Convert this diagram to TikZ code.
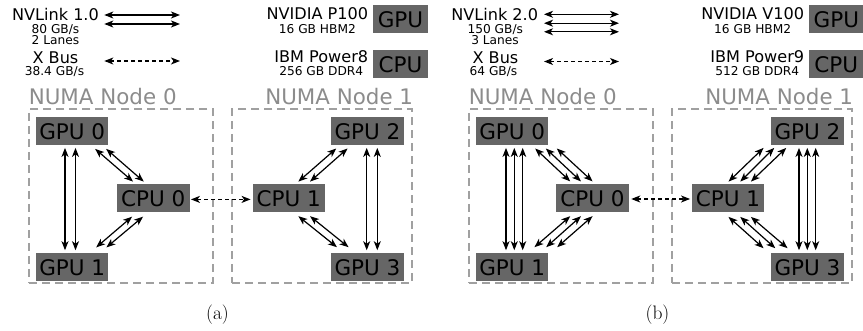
\documentclass[tikz,border=0pt]{standalone}
\usepackage{fontspec}
\newfontfamily\dejavu{DejaVu Sans}
\usetikzlibrary{arrows.meta,calc}

\definecolor{boxgray}{RGB}{102,102,102}
\definecolor{numagray}{RGB}{160,160,160}
\definecolor{numatext}{RGB}{140,140,140}

\tikzset{
  unit/.style={fill=boxgray, inner sep=0pt, outer sep=0pt, minimum height=28pt,
    text height=16.3pt, text depth=0pt, font=\dejavu\fontsize{21.5}{24}\selectfont},
  dev/.style={unit, minimum width=72.5pt},
  keybox/.style={unit, minimum width=54.3pt},
  numabox/.style={draw=numagray, line width=2.3pt, dash pattern=on 8pt off 5pt,
    inner sep=0pt, outer sep=0pt, minimum height=174pt},
  numalabel/.style={text=numatext, inner sep=0pt, font=\dejavu\fontsize{21.4}{24}\selectfont},
  bigtext/.style={inner sep=0pt, font=\dejavu\fontsize{16.1}{18}\selectfont},
  smalltext/.style={inner sep=0pt, font=\dejavu\fontsize{12.2}{14}\selectfont},
  captext/.style={inner sep=0pt, font=\fontsize{19.5}{23}\selectfont},
  nvlink/.style={line width=1.2pt,
    {Stealth[length=9pt,width=7pt,inset=2.5pt]}-{Stealth[length=9pt,width=7pt,inset=2.5pt]}},
  xbus/.style={nvlink, dash pattern=on 4pt off 3pt},
  vgap/.style={shorten <=2.7pt, shorten >=3pt},
}

\begin{document}
\begin{tikzpicture}[x=1pt,y=-1pt]
\useasboundingbox (0,0) rectangle (863,331);

% ---------------- (a) POWER8 / P100 ----------------
% legend
\node[bigtext, anchor=base] (nvla) at (55.5,20.7) {NVLink 1.0};
\node[smalltext, anchor=base] (nvlbwa) at (55.5,33.3) {80 GB/s};
\node[smalltext, anchor=base] (nvllna) at (55.5,44.3) {2 Lanes};
\node[bigtext, anchor=base] (xba) at (55.5,64) {X Bus};
\node[smalltext, anchor=base] (xbbwa) at (54.5,76) {38.4 GB/s};
\coordinate (nvLa1) at (104.3,15);  \coordinate (nvRa1) at (180,15);
\coordinate (nvLa2) at (104.3,24);  \coordinate (nvRa2) at (180,24);
\coordinate (xbLa) at (104.3,61);   \coordinate (xbRa) at (180,61);
\draw[nvlink] (nvLa1) -- (nvRa1);
\draw[nvlink] (nvLa2) -- (nvRa2);
\draw[xbus] (xbLa) -- (xbRa);

\node[bigtext, anchor=base east] (gnamea) at (368.3,19.3) {NVIDIA P100};
\node[smalltext, anchor=base] (gmema) at ([yshift=-14pt]gnamea.base) {16 GB HBM2};
\node[keybox] (gkeya) at (400.5,19.3) {GPU};
\node[bigtext, anchor=base east] (cnamea) at (368.3,62.7) {IBM Power8};
\node[smalltext, anchor=base] (cmema) at ([yshift=-13.3pt]cnamea.base) {256 GB DDR4};
\node[keybox] (ckeya) at (400.5,63.9) {CPU};

% NUMA domains
\node[numabox, minimum width=184pt] (n0a) at (121.3,196) {};
\node[numabox, minimum width=180pt] (n1a) at (322.3,196) {};
\node[numalabel, anchor=base west] (n0la) at ([yshift=4pt,xshift=-0.7pt]n0a.north west) {NUMA Node 0};
\node[numalabel, anchor=base east] (n1la) at ([yshift=4pt,xshift=1pt]n1a.north east) {NUMA Node 1};

% devices
\node[dev] (g0a) at (72.2,131.2) {GPU 0};
\node[dev] (g1a) at (72.2,267.2) {GPU 1};
\node[dev] (c0a) at (153.3,197.9) {CPU 0};
\node[dev] (c1a) at (288.8,197.9) {CPU 1};
\node[dev] (g2a) at (367.5,131.2) {GPU 2};
\node[dev] (g3a) at (367.5,267.2) {GPU 3};

% links
\foreach \dx in {-7.2,3.3}
  \draw[nvlink, vgap] ([xshift=\dx pt]g0a.south) -- ([xshift=\dx pt]g1a.north);
\foreach \dx in {-0.8,9.8}
  \draw[nvlink, vgap] ([xshift=\dx pt]g2a.south) -- ([xshift=\dx pt]g3a.north);
\foreach \sx/\ex in {-13.3/16,-2.3/26.7}
  \draw[nvlink] ($(g0a.south east)+(\sx,3.7)$) -- ($(c0a.north west)+(\ex,-2.3)$);
\foreach \sx/\ex in {15/-12.3,26/-2}
  \draw[nvlink] ($(c0a.south west)+(\sx,4.8)$) -- ($(g1a.north east)+(\ex,-5.8)$);
\foreach \sx/\ex in {5/-26.7,16.3/-15}
  \draw[nvlink] ($(g2a.south west)+(\sx,3.3)$) -- ($(c1a.north east)+(\ex,-2.3)$);
\foreach \sx/\ex in {-26.7/5.7,-15/17.3}
  \draw[nvlink] ($(c1a.south east)+(\sx,4.3)$) -- ($(g3a.north west)+(\ex,-6)$);
\draw[xbus, shorten <=1.4pt, shorten >=2pt] ([yshift=-1.5pt]c0a.east) -- ([yshift=-1.5pt]c1a.west);

\node[captext, anchor=base] (capa) at (217.5,320) {(a)};

% ---------------- (b) POWER9 / V100 ----------------
% legend
\node[bigtext, anchor=base] (nvlb) at (494.7,20.7) {NVLink 2.0};
\node[smalltext, anchor=base] (nvlbwb) at (495.3,33.3) {150 GB/s};
\node[smalltext, anchor=base] (nvllnb) at (495,44.3) {3 Lanes};
\node[bigtext, anchor=base] (xbb) at (495.5,64) {X Bus};
\node[smalltext, anchor=base] (xbbwb) at (493.5,76) {64 GB/s};
\coordinate (nvLb1) at (544,14.3);  \coordinate (nvRb1) at (619,14.3);
\coordinate (nvLb2) at (544,23.2);  \coordinate (nvRb2) at (619,23.2);
\coordinate (nvLb3) at (544,31.8);  \coordinate (nvRb3) at (619,31.8);
\coordinate (xbLb) at (544,61.5);   \coordinate (xbRb) at (619,61.5);
\draw[nvlink] (nvLb1) -- (nvRb1);
\draw[nvlink] (nvLb2) -- (nvRb2);
\draw[nvlink] (nvLb3) -- (nvRb3);
\draw[xbus] (xbLb) -- (xbRb);

\node[bigtext, anchor=base east] (gnameb) at (804.3,19.3) {NVIDIA V100};
\node[smalltext, anchor=base] (gmemb) at ([yshift=-14pt]gnameb.base) {16 GB HBM2};
\node[keybox] (gkeyb) at (836.3,19.3) {GPU};
\node[bigtext, anchor=base east] (cnameb) at (804.3,62.7) {IBM Power9};
\node[smalltext, anchor=base] (cmemb) at ([yshift=-13.3pt]cnameb.base) {512 GB DDR4};
\node[keybox] (ckeyb) at (836.3,63.9) {CPU};

% NUMA domains
\node[numabox, minimum width=184pt] (n0b) at (561.3,196) {};
\node[numabox, minimum width=180pt] (n1b) at (762.3,196) {};
\node[numalabel, anchor=base west] (n0lb) at ([yshift=4pt,xshift=-0.7pt]n0b.north west) {NUMA Node 0};
\node[numalabel, anchor=base east] (n1lb) at ([yshift=4pt,xshift=1pt]n1b.north east) {NUMA Node 1};

% devices
\node[dev] (g0b) at (512.2,131.2) {GPU 0};
\node[dev] (g1b) at (512.2,267.2) {GPU 1};
\node[dev] (c0b) at (592.5,197.9) {CPU 0};
\node[dev] (c1b) at (728,197.9) {CPU 1};
\node[dev] (g2b) at (807.5,131.2) {GPU 2};
\node[dev] (g3b) at (807.5,267.2) {GPU 3};

% links
\foreach \dx in {-6.2,2.1,10.5}
  \draw[nvlink, vgap] ([xshift=\dx pt]g0b.south) -- ([xshift=\dx pt]g1b.north);
\foreach \dx in {-8.5,-0.2,8.2}
  \draw[nvlink, vgap] ([xshift=\dx pt]g2b.south) -- ([xshift=\dx pt]g3b.north);
\foreach \sx/\ex in {-13.3/14,-2.6/24.7,8.4/36.3}
  \draw[nvlink] ($(g0b.south east)+(\sx,3.3)$) -- ($(c0b.north west)+(\ex,-2.5)$);
\foreach \sx/\ex in {14/-14,24.7/-2.3,36.3/8.7}
  \draw[nvlink] ($(c0b.south west)+(\sx,4.3)$) -- ($(g1b.north east)+(\ex,-6)$);
\foreach \sx/\ex in {-7.7/-35.7,3/-24,15/-13.3}
  \draw[nvlink] ($(g2b.south west)+(\sx,2.7)$) -- ($(c1b.north east)+(\ex,-2.3)$);
\foreach \sx/\ex in {-35.7/-7.7,-24/4,-13.3/16.3}
  \draw[nvlink] ($(c1b.south east)+(\sx,5)$) -- ($(g3b.north west)+(\ex,-5)$);
\draw[xbus, shorten <=2.5pt, shorten >=1.7pt] ([yshift=-1.1pt]c0b.east) -- ([yshift=-1.1pt]c1b.west);

\node[captext, anchor=base] (capb) at (657.5,320) {(b)};
\end{tikzpicture}
\end{document}
